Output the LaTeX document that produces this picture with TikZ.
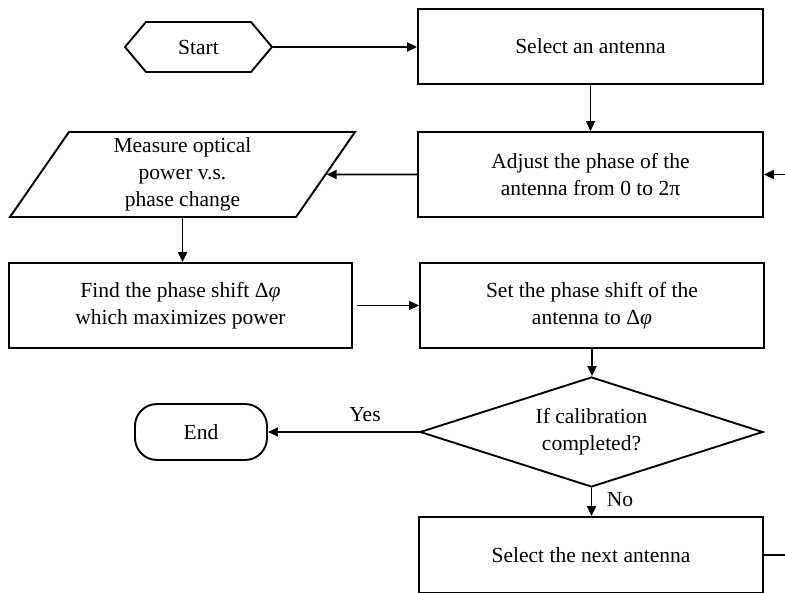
\documentclass[tikz,border=0pt]{standalone}
\usepackage{fontspec}
\setmainfont{Liberation Serif}
\usetikzlibrary{shapes.geometric,shapes.symbols,arrows.meta}
\begin{document}
\begin{tikzpicture}[x=1pt,y=-1pt,
  every node/.style={font=\fontsize{21.5}{27}\selectfont},
  box/.style={draw,line width=1.9pt,align=center,inner sep=0pt},
  arr/.style={line width=1.9pt,-{Triangle[length=10pt,width=9pt]}},
  lbl/.style={inner sep=0pt}]
\useasboundingbox (0,0) rectangle (785,593);
\node[box,shape=signal,signal to=west and east,signal pointer angle=100,minimum width=147pt,minimum height=50pt] (start) at (198.5,47) {Start};
\node[box,minimum width=345pt,minimum height=75pt] (select) at (590.5,46.5) {Select an antenna};
\node[box,minimum width=345pt,minimum height=85pt] (adjust) at (590.5,174.5) {Adjust the phase of the\\antenna from 0 to 2π};
\node[box,trapezium,trapezium left angle=51.3,trapezium right angle=128.7,trapezium stretches body,minimum width=345pt,minimum height=85pt] (measure) at (182.5,174.5) {\raisebox{0pt}[0pt][0pt]{}Measure optical\\power v.s.\\phase change};
\node[box,minimum width=343pt,minimum height=85pt] (find) at (180.5,305.5) {Find the phase shift Δ{\itshape φ}\\which maximizes power};
\node[box,minimum width=344pt,minimum height=85pt] (set) at (592,305.5) {Set the phase shift of the\\antenna to Δ{\itshape φ}};
\node[box,diamond,aspect=3.12,minimum width=343pt,minimum height=110pt] (check) at (591.5,432) {If calibration\\completed?};
\node[box,rounded corners=22pt,minimum width=132pt,minimum height=56pt] (end) at (201,432) {End};
\node[box,minimum width=344pt,minimum height=76pt] (next) at (591,555) {Select the next antenna};
\node[lbl] (yes) at (365,415) {Yes};
\node[lbl] (no) at (620,500) {No};
\draw[arr] (start.east) -- (start.east -| select.west);
\draw[arr] (select) -- (adjust);
\draw[arr] (adjust.west) -- (measure);
\draw[arr] (measure.south) -- (measure.south |- find.north);
\draw[arr,shorten <=4pt] (find.east) -- (set.west);
\draw[arr] (set.south) -- (set.south |- check.north);
\draw[arr] (check.west) -- (end.east);
\draw[arr] (check.south) -- (check.south |- next.north);
\draw[arr] (next.east) -- ++(40,0) |- (adjust.east);
\end{tikzpicture}
\end{document}
